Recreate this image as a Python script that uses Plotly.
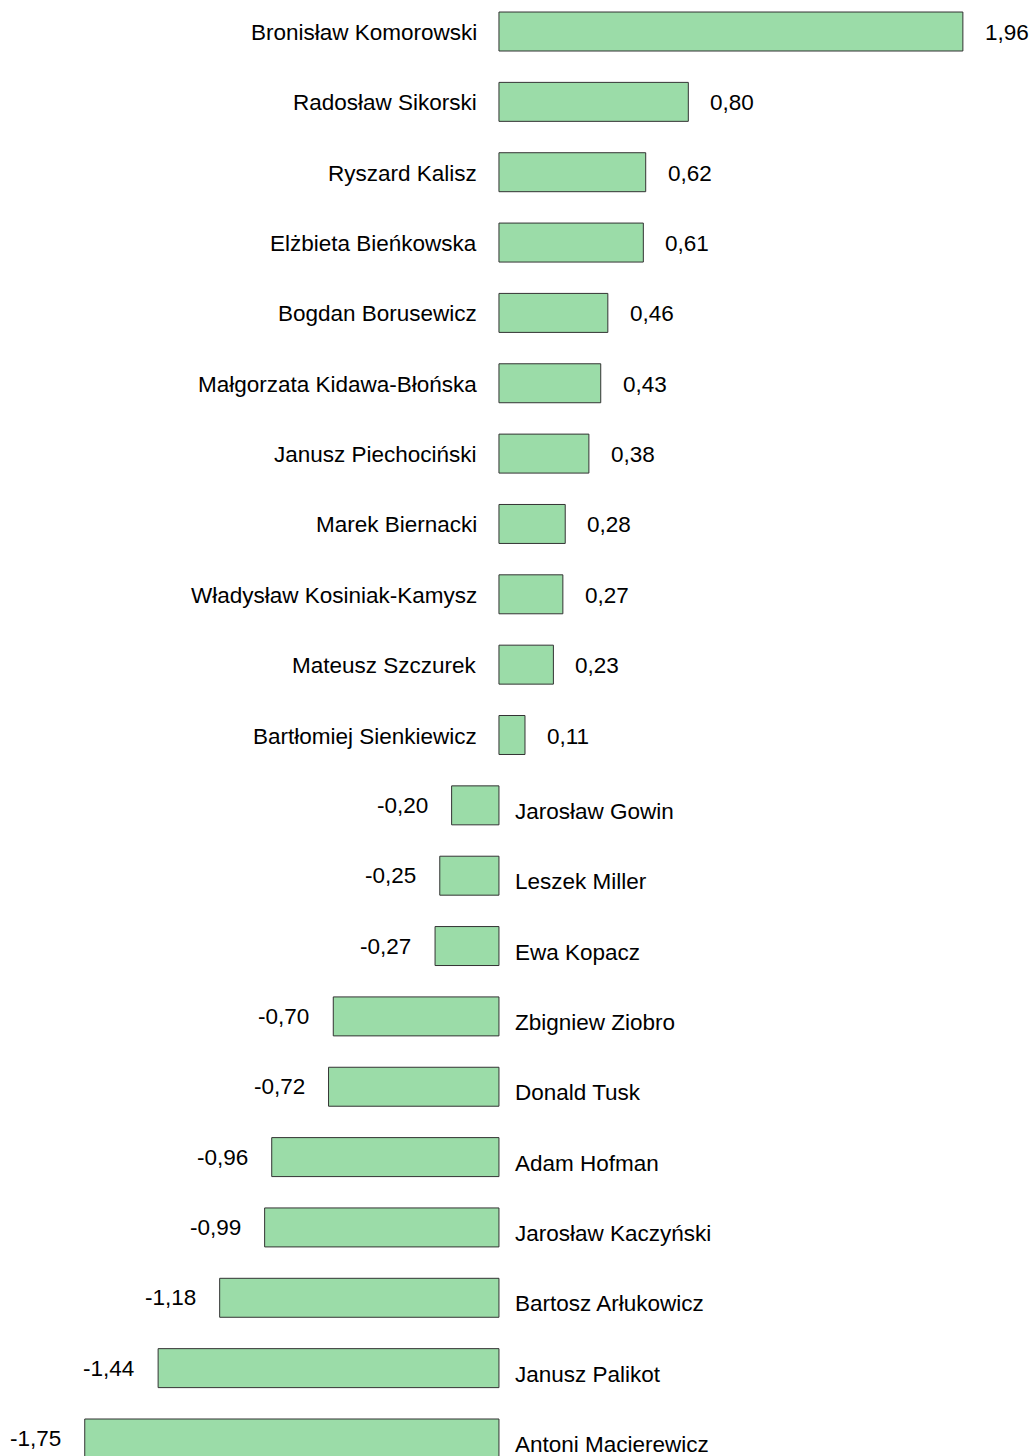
import plotly.graph_objects as go

names = ["Bronisław Komorowski", "Radosław Sikorski", "Ryszard Kalisz", "Elżbieta Bieńkowska",
         "Bogdan Borusewicz", "Małgorzata Kidawa-Błońska", "Janusz Piechociński", "Marek Biernacki",
         "Władysław Kosiniak-Kamysz", "Mateusz Szczurek", "Bartłomiej Sienkiewicz", "Jarosław Gowin",
         "Leszek Miller", "Ewa Kopacz", "Zbigniew Ziobro", "Donald Tusk", "Adam Hofman",
         "Jarosław Kaczyński", "Bartosz Arłukowicz", "Janusz Palikot", "Antoni Macierewicz"]
values = [1.96, 0.80, 0.62, 0.61, 0.46, 0.43, 0.38, 0.28, 0.27, 0.23, 0.11, -0.20,
          -0.25, -0.27, -0.70, -0.72, -0.96, -0.99, -1.18, -1.44, -1.75]

FONT = dict(family="Liberation Sans, Arial, sans-serif", size=22.5, color="#000000")

fig = go.Figure()
fig.add_trace(go.Bar(
    x=values, y=names, orientation="h", width=0.554,
    marker=dict(color="#9BDCA8", line=dict(color="#333333", width=1)),
    hoverinfo="skip", showlegend=False,
))

annotations = []
for n, v in zip(names, values):
    lab = f"{v:.2f}".replace(".", ",")
    if v >= 0:
        annotations.append(dict(x=0, y=n, xref="x", yref="y", text=n, showarrow=False,
                                xanchor="right", xshift=-20, yshift=-1, font=FONT))
        annotations.append(dict(x=v, y=n, xref="x", yref="y", text=lab, showarrow=False,
                                xanchor="left", xshift=20, yshift=-1, font=FONT))
    else:
        annotations.append(dict(x=0, y=n, xref="x", yref="y", text=n, showarrow=False,
                                xanchor="left", xshift=14, yshift=-6, font=FONT))
        annotations.append(dict(x=v, y=n, xref="x", yref="y", text=lab, showarrow=False,
                                xanchor="right", xshift=-22, yshift=0, font=FONT))

fig.update_layout(
    width=1032, height=1456,
    margin=dict(l=0, r=0, t=0, b=0),
    paper_bgcolor="white", plot_bgcolor="white",
    xaxis=dict(range=[-2.108, 2.252], visible=False, fixedrange=True),
    yaxis=dict(type="category", categoryorder="array", categoryarray=names,
               range=[20.249, -0.448], visible=False, fixedrange=True),
    annotations=annotations,
    font=FONT,
)

fig.write_html("out.html", config={"displayModeBar": False})

with open("out.html", "r", encoding="utf-8") as f:
    html = f.read()
html = html.replace("<body>", '<body style="margin:0;padding:0;overflow:hidden">', 1)
with open("out.html", "w", encoding="utf-8") as f:
    f.write(html)
